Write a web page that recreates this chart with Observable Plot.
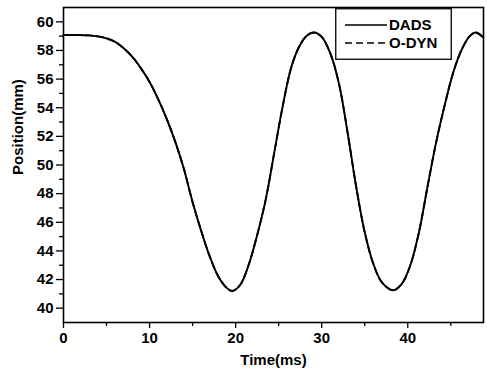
<!DOCTYPE html>
<html><head><meta charset="utf-8">
<script src="https://cdn.jsdelivr.net/npm/d3@7"></script>
<script src="https://cdn.jsdelivr.net/npm/@observablehq/plot@0.6"></script>
<style>
body{margin:0;background:#fff;}
#wrap{position:relative;width:487px;height:378px;font-family:"Liberation Sans",Arial,sans-serif;}
#legend{position:absolute;left:335px;top:8px;}
</style></head><body><div id="wrap"></div>
<script>
const timeMs = [0,1,2,3,4,5,6,7,8,9,10,11,12,13,14,15,16,17,18,19,19.6,20.5,21.5,22.5,23.5,24.5,25.5,26.5,27.5,28.3,29.1,30,31,32,33,34,35,36,37,38.3,39.3,40.3,41.3,42.3,43.3,44.3,45.3,46.3,47.2,47.9,48.8];
const dadsPosition = [59.08,59.08,59.07,59.05,58.98,58.85,58.6,58.15,57.55,56.75,55.8,54.6,53.2,51.6,49.7,47.4,45.4,43.6,42.2,41.4,41.2,41.6,43.0,45.1,47.6,50.9,54.2,56.9,58.4,59.05,59.25,58.95,57.8,55.7,52.3,48.5,45.3,43.1,41.8,41.25,41.7,43.0,45.3,48.5,51.6,54.2,56.5,58.1,59.0,59.25,58.9];
const odynPosition = [59.08,59.08,59.07,59.05,58.98,58.85,58.6,58.15,57.55,56.75,55.8,54.6,53.2,51.6,49.7,47.4,45.4,43.6,42.2,41.4,41.2,41.6,43.0,45.1,47.6,50.9,54.2,56.9,58.4,59.05,59.25,58.95,57.8,55.7,52.3,48.5,45.3,43.1,41.8,41.25,41.7,43.0,45.3,48.5,51.6,54.2,56.5,58.1,59.0,59.25,58.9];
const seriesNames = ["DADS", "O-DYN"];
const xTicks = [0,10,20,30,40];
const xMinorTicks = [5,15,25,35,45];
const yTicks = [40,42,44,46,48,50,52,54,56,58,60];
const yMinorTicks = [41,43,45,47,49,51,53,55,57,59];
const xLabel = "Time(ms)";
const yLabel = "Position(mm)";

const rows = [];
timeMs.forEach((t, i) => {
  rows.push({t, v: dadsPosition[i], s: seriesNames[0]});
  rows.push({t, v: odynPosition[i], s: seriesNames[1]});
});

const font = "'Liberation Sans', Arial, sans-serif";
const chart = Plot.plot({
  width: 487, height: 378,
  marginLeft: 63, marginRight: 4, marginTop: 7, marginBottom: 56,
  style: {fontFamily: font, fontSize: "15px", fontWeight: "bold", color: "#000", background: "#fff", overflow: "visible"},
  x: {domain: [0, 48.8]},
  y: {domain: [39, 61]},
  marks: [
    Plot.axisX({ticks: xTicks, tickSize: 6, tickPadding: 4, label: null, stroke: "#000", strokeWidth: 1.3, fontSize: 15}),
    Plot.axisX({ticks: xMinorTicks, tickSize: 4, text: null, label: null, stroke: "#000", strokeWidth: 1.3}),
    Plot.axisY({ticks: yTicks, tickSize: 7, tickPadding: 3, label: null, stroke: "#000", strokeWidth: 1.3, fontSize: 15}),
    Plot.axisY({ticks: yMinorTicks, tickSize: 4, text: null, label: null, stroke: "#000", strokeWidth: 1.3}),
    Plot.frame({stroke: "#000", strokeWidth: 1.6}),
    Plot.line(rows.filter(d => d.s === seriesNames[0]), {x: "t", y: "v", stroke: "#000", strokeWidth: 1.9, curve: "catmull-rom"}),
    Plot.line(rows.filter(d => d.s === seriesNames[1]), {x: "t", y: "v", stroke: "#000", strokeWidth: 1.9, strokeDasharray: "7,4", curve: "catmull-rom"}),
    Plot.text([xLabel], {frameAnchor: "bottom", dy: 42, fontSize: 15, fill: "#000"}),
    Plot.text([yLabel], {frameAnchor: "left", dx: -45, dy: 10, rotate: -90, fontSize: 15, fill: "#000"})
  ]
});
const wrap = document.getElementById("wrap");
wrap.appendChild(chart);

// legend
const lw = 117, lh = 52;
const leg = d3.select(wrap).append("svg").attr("id", "legend").attr("width", lw).attr("height", lh);
leg.append("rect").attr("x", 0.75).attr("y", 0.75).attr("width", lw - 1.5).attr("height", lh - 1.5)
  .attr("fill", "#fff").attr("stroke", "#000").attr("stroke-width", 1.3);
seriesNames.forEach((name, i) => {
  const y = 17 + i * 18;
  leg.append("line").attr("x1", 10).attr("x2", 52).attr("y1", y).attr("y2", y)
    .attr("stroke", "#000").attr("stroke-width", 1.6).attr("stroke-dasharray", i === 1 ? "7,4" : null);
  leg.append("text").attr("x", 54).attr("y", y).attr("dy", "0.35em")
    .attr("font-family", font).attr("font-weight", "bold").attr("font-size", 15).text(name);
});
</script></body></html>
